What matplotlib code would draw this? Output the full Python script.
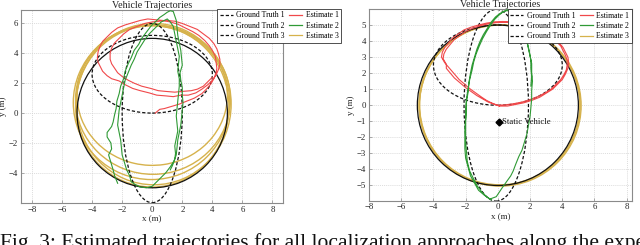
import matplotlib
matplotlib.use("Agg")
import matplotlib.pyplot as plt
from matplotlib.patches import Ellipse, Arc
from matplotlib.lines import Line2D

# ---------------- data ----------------
# ground truth ellipses: (cx, cy, width, height)
gt_left = [(0.0, 2.6, 8.0, 5.2), (0.0, 0.0, 4.0, 12.0)]
gt3_left = (0.0, 0.0, 10.0, 10.0)
gt_right = [(0.0, 2.5, 8.0, 5.0), (-0.1, 0.0, 4.0, 11.95)]
gt3_right = (0.0, 0.0, 10.0, 10.0)

# estimate 3 loops (cx, cy, width, height, theta1, theta2)
est3_left = [(0.0, 1.2, 10.0, 9.4, -25, 335), (0.05, 0.9, 10.3, 10.0, 0, 360),
             (-0.05, 0.7, 10.4, 10.3, 0, 360), (0.0, 0.45, 10.2, 10.8, 0, 360),
             (0.1, 0.6, 10.3, 10.8, 0, 360)]
est3_right = [(0.1, 0.0, 10.0, 10.0, 0, 360), (0.15, -0.02, 10.04, 10.04, 0, 360),
              (0.12, 0.03, 9.96, 9.98, 0, 360)]

est1_left = [(0.2, 0.0), (0.5, 0.25), (0.8, 0.3), (1.3, 0.45), (1.8, 0.6), (2.3, 0.8),
             (2.8, 1.0), (3.3, 1.3), (3.6, 1.6), (3.9, 1.95), (4.1, 2.3), (4.25, 2.7),
             (4.3, 3.0), (4.25, 3.4), (4.2, 3.8), (4.0, 4.2), (3.8, 4.5), (3.5, 4.85),
             (3.1, 5.2), (2.7, 5.45), (2.2, 5.7), (1.7, 5.95), (1.2, 6.1), (0.7, 6.2),
             (0.2, 6.25), (-0.3, 6.3), (-0.8, 6.2), (-1.3, 6.05), (-1.8, 5.9), (-2.3, 5.7),
             (-2.7, 5.4), (-3.0, 5.1), (-3.3, 4.8), (-3.5, 4.4), (-3.6, 4.1), (-3.65, 3.7),
             (-3.6, 3.4), (-3.45, 3.1), (-3.3, 2.8), (-3.0, 2.5), (-2.7, 2.3), (-2.2, 2.15),
             (-1.8, 1.9), (-1.3, 1.65), (-0.8, 1.5), (-0.2, 1.35), (0.3, 1.2), (0.9, 1.15),
             (1.4, 1.1), (1.9, 1.2), (2.4, 1.2), (2.9, 1.35), (3.3, 1.6), (3.7, 1.9),
             (4.0, 2.2), (4.25, 2.55), (4.4, 2.9), (4.5, 3.25), (4.5, 3.6), (4.4, 4.0),
             (4.3, 4.3), (4.1, 4.65), (3.8, 5.0), (3.4, 5.3), (3.0, 5.6), (2.5, 5.8),
             (2.0, 6.0), (1.5, 6.15), (1.0, 6.2), (0.5, 6.15), (0.0, 6.1), (-0.5, 6.0),
             (-1.0, 5.8), (-1.5, 5.6), (-1.9, 5.3), (-2.2, 5.0), (-2.5, 4.7), (-2.7, 4.35),
             (-2.8, 4.0), (-2.8, 3.6), (-2.7, 3.3), (-2.5, 3.0), (-2.3, 2.7), (-2.0, 2.45),
             (-1.6, 2.2), (-1.2, 2.0), (-0.7, 1.8), (-0.1, 1.65), (0.4, 1.5), (0.9, 1.45),
             (1.5, 1.4), (2.0, 1.45), (2.6, 1.5), (3.0, 1.6), (3.4, 1.8), (3.7, 2.1),
             (4.0, 2.4)]

est2_left = [(-2.3, -4.7), (-2.5, -4.2), (-2.6, -3.8), (-2.75, -3.3), (-2.9, -2.8),
             (-2.7, -2.4), (-2.75, -2.0), (-3.0, -1.6), (-3.0, -1.3), (-2.7, -0.9),
             (-2.6, -0.6), (-2.5, -0.1), (-2.4, 0.3), (-2.35, 0.8), (-2.2, 1.3),
             (-2.1, 1.8), (-1.9, 2.3), (-1.8, 2.8), (-1.6, 3.3), (-1.4, 3.7), (-1.2, 4.2),
             (-0.9, 4.6), (-0.7, 5.0), (-0.4, 5.4), (-0.1, 5.8), (0.2, 6.1), (0.5, 6.4),
             (0.8, 6.6), (1.0, 6.75), (1.2, 6.85), (1.4, 6.8), (1.5, 6.5), (1.6, 6.2),
             (1.65, 5.7), (1.7, 5.2), (1.8, 4.7), (1.9, 4.2), (1.95, 3.7), (2.0, 3.2),
             (1.85, 2.7), (1.9, 2.2), (2.0, 1.7), (2.0, 1.2), (2.05, 0.7), (2.0, 0.2),
             (1.95, -0.3), (1.9, -0.8), (1.8, -1.3), (1.7, -1.8), (1.65, -2.3), (1.6, -2.8),
             (1.45, -3.2), (1.2, -3.6), (0.9, -4.0), (0.6, -4.3), (0.3, -4.6), (0.0, -4.9),
             (-0.4, -5.0), (-0.8, -4.95), (-1.1, -4.8), (-1.4, -4.6), (-1.5, -4.2),
             (-1.7, -3.8), (-1.85, -3.3), (-2.0, -2.8), (-2.05, -2.3), (-2.1, -1.8),
             (-2.2, -1.3), (-2.3, -0.8), (-2.25, -0.3), (-2.2, 0.2), (-2.1, 0.7),
             (-2.0, 1.2), (-1.9, 1.7), (-1.8, 2.2), (-1.6, 2.7), (-1.4, 3.2), (-1.2, 3.6),
             (-1.0, 4.1), (-0.75, 4.5), (-0.5, 4.9), (-0.2, 5.3), (0.1, 5.6), (0.35, 5.85),
             (0.6, 6.1), (0.8, 6.2), (1.0, 6.3), (1.2, 6.1), (1.4, 5.8), (1.5, 5.3),
             (1.6, 4.8), (1.7, 4.3), (1.8, 3.8), (1.75, 3.3), (1.7, 2.8), (1.8, 2.3),
             (1.8, 1.8), (1.75, 1.3), (1.7, 0.8), (1.65, 0.3), (1.6, -0.2), (1.65, -0.7),
             (1.7, -1.2), (1.6, -1.7), (1.5, -2.2), (1.55, -2.7), (1.5, -3.1), (1.35, -3.5),
             (1.2, -3.8)]

est1_right = [(0.0, 0.0), (0.5, 0.03), (1.0, 0.1), (1.5, 0.2), (2.0, 0.35), (2.5, 0.55),
              (2.9, 0.75), (3.3, 1.0), (3.6, 1.3), (3.9, 1.6), (4.1, 1.9), (4.25, 2.2),
              (4.3, 2.5), (4.3, 2.8), (4.2, 3.1), (4.05, 3.4), (3.9, 3.7), (3.65, 3.95),
              (3.4, 4.2), (3.05, 4.45), (2.7, 4.65), (2.25, 4.85), (1.8, 5.0), (1.3, 5.12),
              (0.8, 5.2), (0.3, 5.22), (-0.2, 5.2), (-0.7, 5.12), (-1.2, 5.0), (-1.65, 4.87),
              (-2.1, 4.7), (-2.45, 4.45), (-2.8, 4.2), (-3.05, 3.9), (-3.3, 3.6), (-3.45, 3.3),
              (-3.5, 3.0), (-3.3, 2.65), (-3.0, 2.3), (-2.7, 1.95), (-2.4, 1.6), (-2.05, 1.3),
              (-1.7, 1.0), (-1.35, 0.75), (-1.0, 0.5), (-0.7, 0.3), (-0.4, 0.15), (0.1, -0.05),
              (0.6, -0.05), (1.1, 0.05), (1.6, 0.15), (2.1, 0.3), (2.6, 0.5), (3.0, 0.75),
              (3.4, 1.0), (3.7, 1.3), (4.0, 1.6), (4.2, 1.95), (4.35, 2.3), (4.4, 2.65),
              (4.35, 3.0), (4.2, 3.3), (4.05, 3.6), (3.8, 3.9), (3.55, 4.15), (3.2, 4.4),
              (2.8, 4.6), (2.35, 4.8), (1.9, 4.95), (1.4, 5.07), (0.9, 5.15), (0.4, 5.17),
              (-0.1, 5.15), (-0.6, 5.07), (-1.1, 4.95), (-1.55, 4.8), (-2.0, 4.6),
              (-2.35, 4.35), (-2.7, 4.1), (-2.95, 3.8), (-3.2, 3.5), (-3.35, 3.2),
              (-3.4, 2.9), (-3.2, 2.55), (-3.2, 2.3), (-2.95, 2.0), (-2.7, 1.7), (-2.35, 1.4),
              (-2.0, 1.1), (-1.65, 0.85), (-1.3, 0.6), (-0.95, 0.4), (-0.6, 0.2), (-0.2, 0.05),
              (0.1, -0.05)]

est2_right = [(-0.4, -5.9), (-0.7, -5.7), (-1.0, -5.4), (-1.3, -5.0), (-1.5, -4.6),
              (-1.75, -4.1), (-1.9, -3.5), (-1.95, -2.9), (-2.0, -2.3), (-2.0, -1.6),
              (-2.0, -1.0), (-1.95, -0.4), (-1.95, 0.2), (-1.85, 0.8), (-1.8, 1.4),
              (-1.7, 2.0), (-1.6, 2.5), (-1.45, 3.0), (-1.3, 3.5), (-1.1, 4.0), (-0.9, 4.4),
              (-0.65, 4.8), (-0.4, 5.2), (-0.15, 5.5), (0.1, 5.7), (0.35, 5.85), (0.6, 5.95),
              (0.8, 5.9), (1.0, 5.8), (1.2, 5.55), (1.4, 5.3), (1.55, 4.9), (1.7, 4.5),
              (1.8, 4.05), (1.9, 3.6), (2.0, 3.1), (2.1, 2.6), (2.1, 2.05), (2.15, 1.5),
              (2.1, 0.95), (2.1, 0.4), (2.05, -0.15), (2.0, -0.7), (1.9, -1.25), (1.8, -1.8),
              (1.65, -2.3), (1.5, -2.8), (1.3, -3.2), (1.1, -3.7), (0.95, -4.1), (0.8, -4.4),
              (0.55, -4.75), (0.3, -5.1), (0.1, -5.4), (-0.1, -5.7), (-0.5, -5.85),
              (-0.85, -5.6), (-1.2, -5.3), (-1.45, -4.85), (-1.7, -4.4), (-1.85, -3.85),
              (-2.0, -3.3), (-2.05, -2.7), (-2.05, -2.1), (-2.05, -1.4), (-2.0, -0.8),
              (-2.0, -0.2), (-1.95, 0.4), (-1.85, 1.0), (-1.75, 1.6), (-1.6, 2.2),
              (-1.5, 2.7), (-1.35, 3.2), (-1.15, 3.7), (-0.95, 4.15), (-0.7, 4.6),
              (-0.45, 5.0), (-0.2, 5.35), (0.05, 5.6), (0.3, 5.8), (0.55, 5.9), (0.8, 5.85),
              (1.05, 5.65), (1.25, 5.4), (1.45, 5.05), (1.6, 4.65), (1.75, 4.2), (1.85, 3.75),
              (1.95, 3.3), (2.05, 2.8), (2.05, 2.3), (2.1, 1.8), (2.05, 1.2)]

xticks = [-8, -6, -4, -2, 0, 2, 4, 6, 8]
yticks_left = [-4, -2, 0, 2, 4, 6]
yticks_right = [-5, -4, -3, -2, -1, 0, 1, 2, 3, 4, 5]
static_vehicle = (0.05, -1.05)

legend_labels = ["Ground Truth 1", "Ground Truth 2", "Ground Truth 3",
                 "Estimate 1", "Estimate 2", "Estimate 3"]
caption = ("Fig. 3: Estimated trajectories for all localization approaches along "
           "the experiment following model")

# ---------------- style ----------------
SERIF = ["Liberation Serif", "DejaVu Serif"]
plt.rcParams["font.family"] = SERIF
C_RED = "#f0484a"
C_GRN = "#2f9a35"
C_YEL = "#d6b24c"
C_GT = "#111111"
DASH = (0, (2.6, 1.6))

fig = plt.figure(figsize=(6.4, 2.45), dpi=100)
axL = fig.add_axes([0.0323, 0.1714, 0.4099, 0.7878])
axR = fig.add_axes([0.5766, 0.1808, 0.4104, 0.7825])


def style(ax, xlim, ylim, yticks):
    ax.set_xlim(*xlim)
    ax.set_ylim(*ylim)
    ax.set_xticks(xticks)
    ax.set_yticks(yticks)
    ax.grid(True, color="#d0d0d0", linestyle=(0, (1.5, 1.5)), linewidth=0.5)
    ax.set_axisbelow(True)
    for s in ax.spines.values():
        s.set_color("#8a8a8a")
        s.set_linewidth(0.8)
    ax.tick_params(direction="in", length=2, width=0.5, labelsize=6.3,
                   colors="#8a8a8a", labelcolor="#222222", pad=2)
    ax.set_xlabel("x (m)", fontsize=6.5, labelpad=1, color="#222222")
    ax.set_ylabel("y (m)", fontsize=6.5, labelpad=1, color="#222222")
    ax.set_title("Vehicle Trajectories", fontsize=7.2, pad=1.5, color="#222222")


def draw(ax, gts, gt3, est3, est1, est2):
    for (cx, cy, w, h, t1, t2) in est3:
        ax.add_patch(Arc((cx, cy), w, h, theta1=t1, theta2=t2, color=C_YEL, lw=1.0))
    ax.add_patch(Ellipse(gt3[:2], gt3[2], gt3[3], fill=False, ec=C_GT, lw=0.9, zorder=1.5))
    for (cx, cy, w, h) in gts:
        ax.add_patch(Ellipse((cx, cy), w, h, fill=False, ec=C_GT, lw=0.9, ls=DASH, zorder=2.5))
    ax.plot([p[0] for p in est1], [p[1] for p in est1], color=C_RED, lw=0.8, zorder=3)
    ax.plot([p[0] for p in est2], [p[1] for p in est2], color=C_GRN, lw=0.8, zorder=3)


style(axL, (-8.75, 8.7), (-6.02, 6.9), yticks_left)
style(axR, (-8.0, 8.31), (-5.95, 6.0), yticks_right)
draw(axL, gt_left, gt3_left, est3_left, est1_left, est2_left)
draw(axR, gt_right, gt3_right, est3_right, est1_right, est2_right)

axR.plot([static_vehicle[0]], [static_vehicle[1]], marker="D", color="black",
         markersize=3.5, zorder=5)
axR.text(static_vehicle[0] + 0.2, static_vehicle[1], "Static Vehicle", fontsize=6.3,
         va="center", ha="left", color="#111111", zorder=5)

handles = [Line2D([], [], color=C_GT, lw=0.9, ls=DASH) for _ in range(3)] + [
    Line2D([], [], color=c, lw=0.9) for c in (C_RED, C_GRN, C_YEL)]

legkw = dict(ncol=2, fontsize=5.6, handlelength=1.7, handletextpad=0.4,
             columnspacing=0.6, borderpad=0.35, labelspacing=0.3, fancybox=False,
             framealpha=1, edgecolor="#333333", borderaxespad=0)
lg = fig.legend(handles, legend_labels, loc="upper left",
                bbox_to_anchor=(0.339, 0.965), **legkw)
lg.get_frame().set_linewidth(0.6)
lg2 = axR.legend(handles, legend_labels, loc="upper right",
                 bbox_to_anchor=(1.0, 1.0), **legkw)
lg2.get_frame().set_linewidth(0.6)

fig.text(0.0, 0.049, caption, fontsize=15.5, va="top", ha="left", color="#111111")

fig.savefig("out.png", dpi=100)
